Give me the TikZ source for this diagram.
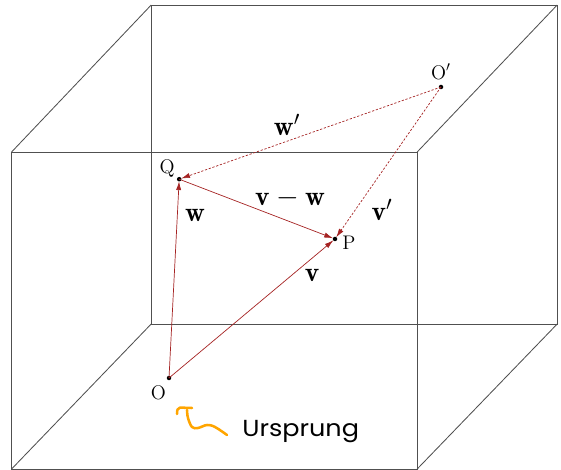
\documentclass[tikz,border=0pt]{standalone}
\usepackage{amsmath}
\usepackage{fontspec}
\newfontfamily\handfont[FakeStretch=1.1]{Poppins}
\usepackage{tikz}
\usetikzlibrary{arrows.meta, positioning}

\definecolor{vecred}{RGB}{165,35,35}
\definecolor{boxgray}{RGB}{80,80,80}
\definecolor{noteorange}{RGB}{255,165,0}

\begin{document}
\begin{tikzpicture}[
        every node/.style={font=\fontsize{14}{16}\selectfont},
        vec/.style={vecred, line width=0.5pt, -{Latex[length=2.2mm,width=1.3mm]}, shorten >=1.5pt},
        dashvec/.style={vec, dash pattern=on 1.6pt off 1.2pt},
        veclabel/.style={font=\fontsize{19.5}{22}\selectfont},
        edge/.style={boxgray, line width=0.6pt},
        >=Stealth
    ]
    \useasboundingbox (0,0) rectangle (14.025,11.75);

    % Box
    \draw[edge] (3.78,3.65) rectangle (13.93,11.625);
    \draw[edge] (0.29,0.025) rectangle (10.43,7.95);
    \draw[edge] (0.29,7.95) -- (3.78,11.625);
    \draw[edge] (10.43,7.95) -- (13.93,11.625);
    \draw[edge] (0.29,0.025) -- (3.78,3.65);
    \draw[edge] (10.43,0.025) -- (13.93,3.65);

    % Points
    \coordinate (O) at (4.225,2.30);
    \coordinate (Q) at (4.48,7.27);
    \coordinate (P) at (8.375,5.775);
    \coordinate (Op) at (11.025,9.575);
    \foreach \pt in {O,Q,P,Op}
        \fill (\pt) circle (1.6pt);

    \node[anchor=north east, inner sep=1pt] (labO) at ([xshift=-1pt,yshift=-4pt]O) {O};
    \node[anchor=south east, inner sep=1pt] (labQ) at ([xshift=-2pt,yshift=0pt]Q) {Q};
    \node[anchor=north west, inner sep=1pt] (labP) at ([xshift=4pt,yshift=3pt]P) {P};
    \node[anchor=south, inner sep=1pt] (labOp) at ([yshift=4pt]Op) {O$'$};

    % Vectors
    \draw[vec] (O) -- (Q);
    \draw[vec] (O) -- (P);
    \draw[vec] (Q) -- (P);
    \draw[dashvec] (Op) -- (Q);
    \draw[dashvec] (Op) -- (P);

    \node[veclabel] (labw) at (4.875,6.375) {$\mathbf{w}$};
    \node[veclabel] (labv) at (7.8,4.875) {$\mathbf{v}$};
    \node[veclabel] (labvw) at (7.25,6.8) {$\mathbf{v}-\mathbf{w}$};
    \node[veclabel] (labwp) at (7.175,8.625) {$\mathbf{w}'$};
    \node[veclabel] (labvp) at (9.55,6.5) {$\mathbf{v}'$};

    % Note
    \node[anchor=base west, inner sep=0pt, font=\handfont\fontsize{16.5}{18}\selectfont] (note) at (6.05,0.825) {Ursprung};
    \coordinate (tail) at (5.675,0.875);
    \coordinate (tip) at (4.675,1.5);
    \draw[noteorange, line width=1.8pt, line cap=round, line join=round]
        plot[smooth, tension=0.6] coordinates {(tail) (5.375,1.075) (5.175,1.125) (4.95,1.05) (4.8,1.075) (4.7,1.3) (tip)};
    \draw[noteorange, line width=1.8pt, line cap=round, line join=round]
        (4.425,1.4) .. controls (4.43,1.52) .. (4.5,1.56) -- (4.8,1.55);

\end{tikzpicture}
\end{document}
